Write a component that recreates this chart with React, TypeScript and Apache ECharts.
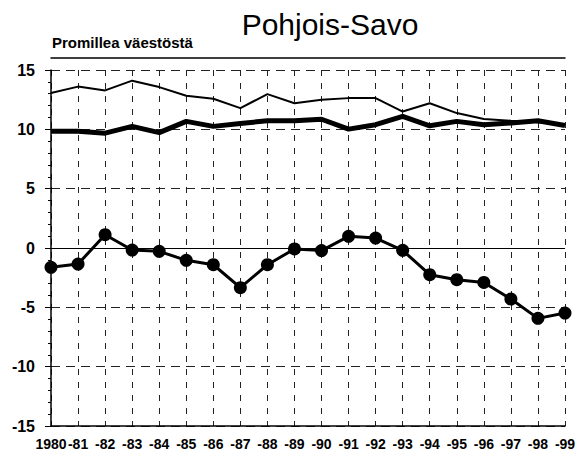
import React, { useEffect, useRef } from "react";
import * as echarts from "echarts";

const categories = ["1980", "-81", "-82", "-83", "-84", "-85", "-86", "-87", "-88", "-89", "-90", "-91", "-92", "-93", "-94", "-95", "-96", "-97", "-98", "-99"];
const thinSeries = [13.06, 13.6, 13.28, 14.1, 13.56, 12.83, 12.58, 11.79, 12.97, 12.2, 12.5, 12.63, 12.63, 11.5, 12.2, 11.37, 10.87, 10.72, 10.6, 10.39];
const thickSeries = [9.83, 9.83, 9.68, 10.25, 9.72, 10.67, 10.25, 10.5, 10.72, 10.72, 10.85, 10.02, 10.39, 11.09, 10.3, 10.67, 10.39, 10.53, 10.72, 10.33];
const markerSeries = [-1.63, -1.35, 1.12, -0.17, -0.28, -1.04, -1.41, -3.34, -1.41, -0.08, -0.22, 0.98, 0.84, -0.2, -2.25, -2.67, -2.9, -4.3, -5.93, -5.48];
const yTicks = { min: -15, max: 15, interval: 5 };

const FONT = "'Liberation Sans', Arial, sans-serif";

export default function App() {
  const ref = useRef<HTMLDivElement>(null);
  useEffect(() => {
    if (!ref.current) return;
    const chart = echarts.init(ref.current, null, { renderer: "svg" });
    chart.setOption({
      animation: false,
      backgroundColor: "#ffffff",
      title: [
        {
          text: "Pohjois-Savo",
          left: 325,
          textAlign: "center",
          top: 4,
          textStyle: { fontFamily: FONT, fontSize: 30, fontWeight: "normal", color: "#000" },
        },
        {
          text: "Promillea väestöstä",
          left: 47,
          top: 30,
          textStyle: { fontFamily: FONT, fontSize: 15, fontWeight: "bold", color: "#000" },
        },
      ],
      grid: { left: 51, right: 18, top: 70, bottom: 28, containLabel: false },
      xAxis: [
        {
          type: "category",
          data: categories,
          boundaryGap: false,
          axisLine: { onZero: false, lineStyle: { color: "#000", width: 1.5 } },
          axisTick: { show: false },
          axisLabel: {
            interval: 0,
            margin: 11,
            fontFamily: FONT,
            fontSize: 14,
            fontWeight: "bold",
            color: "#000",
          },
          splitLine: { show: true, lineStyle: { color: "#222", width: 1, type: [6, 7] } },
        },
        {
          type: "category",
          data: categories,
          position: "top",
          offset: 12,
          boundaryGap: false,
          axisLine: { show: true, onZero: false, lineStyle: { color: "#000", width: 1.5 } },
          axisTick: { show: false },
          axisLabel: { show: false },
          splitLine: { show: false },
        },
      ],
      yAxis: {
        type: "value",
        min: yTicks.min,
        max: yTicks.max,
        interval: yTicks.interval,
        axisLine: { show: true, lineStyle: { color: "#000", width: 1.5 } },
        axisTick: { show: true, length: 6, lineStyle: { color: "#000" } },
        minorTick: { show: true, splitNumber: 5, length: 3, lineStyle: { color: "#000" } },
        axisLabel: {
          margin: 16,
          fontFamily: FONT,
          fontSize: 16,
          fontWeight: "bold",
          color: "#000",
        },
        splitLine: { show: true, lineStyle: { color: "#222", width: 1.2, type: [9, 6] } },
      },
      series: [
        {
          type: "line",
          data: thinSeries,
          symbol: "none",
          lineStyle: { color: "#000", width: 2 },
          markLine: {
            silent: true,
            symbol: "none",
            label: { show: false },
            lineStyle: { color: "#000", width: 1, type: "solid" },
            data: [{ yAxis: 0 }],
          },
        },
        {
          type: "line",
          data: thickSeries,
          symbol: "none",
          lineStyle: { color: "#000", width: 5 },
        },
        {
          type: "line",
          data: markerSeries,
          symbol: "circle",
          symbolSize: 13,
          itemStyle: { color: "#000" },
          lineStyle: { color: "#000", width: 3 },
        },
      ],
    });
    return () => chart.dispose();
  }, []);
  return <div ref={ref} style={{ position: "absolute", left: 0, top: 0, width: 583, height: 454 }} />;
}
